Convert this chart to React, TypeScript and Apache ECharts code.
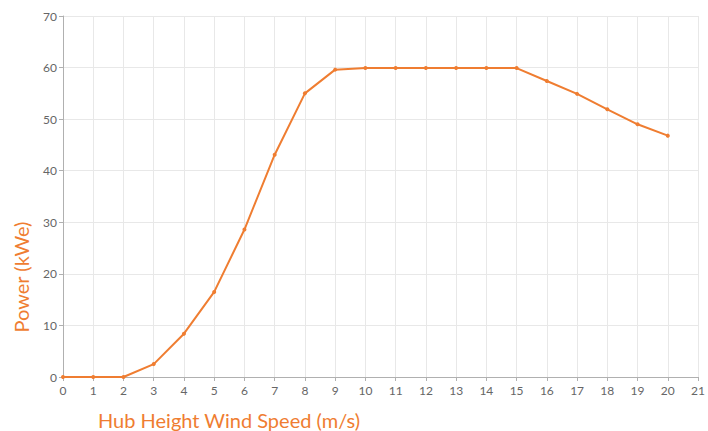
import React, { useEffect, useRef } from "react";
import * as echarts from "echarts";

const windSpeeds = [0, 1, 2, 3, 4, 5, 6, 7, 8, 9, 10, 11, 12, 13, 14, 15, 16, 17, 18, 19, 20];
const powerKWe = [0, 0, 0, 2.5, 8.4, 16.5, 28.6, 43.1, 55.0, 59.6, 59.9, 59.9, 59.9, 59.9, 59.9, 59.9, 57.4, 54.9, 51.9, 49.0, 46.8];

const xAxisTitle = "Hub Height Wind Speed (m/s)";
const yAxisTitle = "Power (kWe)";

export default function App() {
  const ref = useRef<HTMLDivElement>(null);
  useEffect(() => {
    if (!ref.current) return;
    const chart = echarts.init(ref.current, undefined, { renderer: "svg" });
    const orange = "#EF7D31";
    chart.setOption({
      animation: false,
      textStyle: { fontFamily: "Lato" },
      grid: { left: 63, right: 5, top: 16, bottom: 54 },
      xAxis: {
        type: "value",
        min: 0,
        max: 21,
        interval: 1,
        axisLine: { show: true, lineStyle: { color: "#b0b0b0" } },
        axisTick: { show: true, length: 4, lineStyle: { color: "#b0b0b0" } },
        axisLabel: { color: "#666", fontSize: 12, margin: 7 },
        splitLine: { show: true, lineStyle: { color: "#e8e8e8" } },
      },
      yAxis: {
        type: "value",
        min: 0,
        max: 70,
        interval: 10,
        axisLine: { show: true, lineStyle: { color: "#b0b0b0" } },
        axisTick: { show: true, length: 4, lineStyle: { color: "#b0b0b0" } },
        axisLabel: { color: "#666", fontSize: 12, margin: 6 },
        splitLine: { show: true, lineStyle: { color: "#e8e8e8" } },
      },
      graphic: [
        {
          type: "text",
          left: 98,
          top: 410,
          style: { text: xAxisTitle, fill: orange, fontSize: 20, fontFamily: "Lato" },
        },
        {
          type: "text",
          x: 11,
          y: 277,
          rotation: Math.PI / 2,
          style: {
            text: yAxisTitle,
            fill: orange,
            fontSize: 20,
            fontFamily: "Lato",
            align: "center",
            verticalAlign: "top",
          },
        },
      ],
      series: [
        {
          type: "line",
          data: windSpeeds.map((x, i) => [x, powerKWe[i]]),
          symbol: "circle",
          symbolSize: 4,
          lineStyle: { color: orange, width: 2 },
          itemStyle: { color: orange },
        },
      ],
    });
    return () => chart.dispose();
  }, []);
  return <div ref={ref} style={{ width: 708, height: 431, position: "absolute", left: 0, top: 0 }} />;
}
